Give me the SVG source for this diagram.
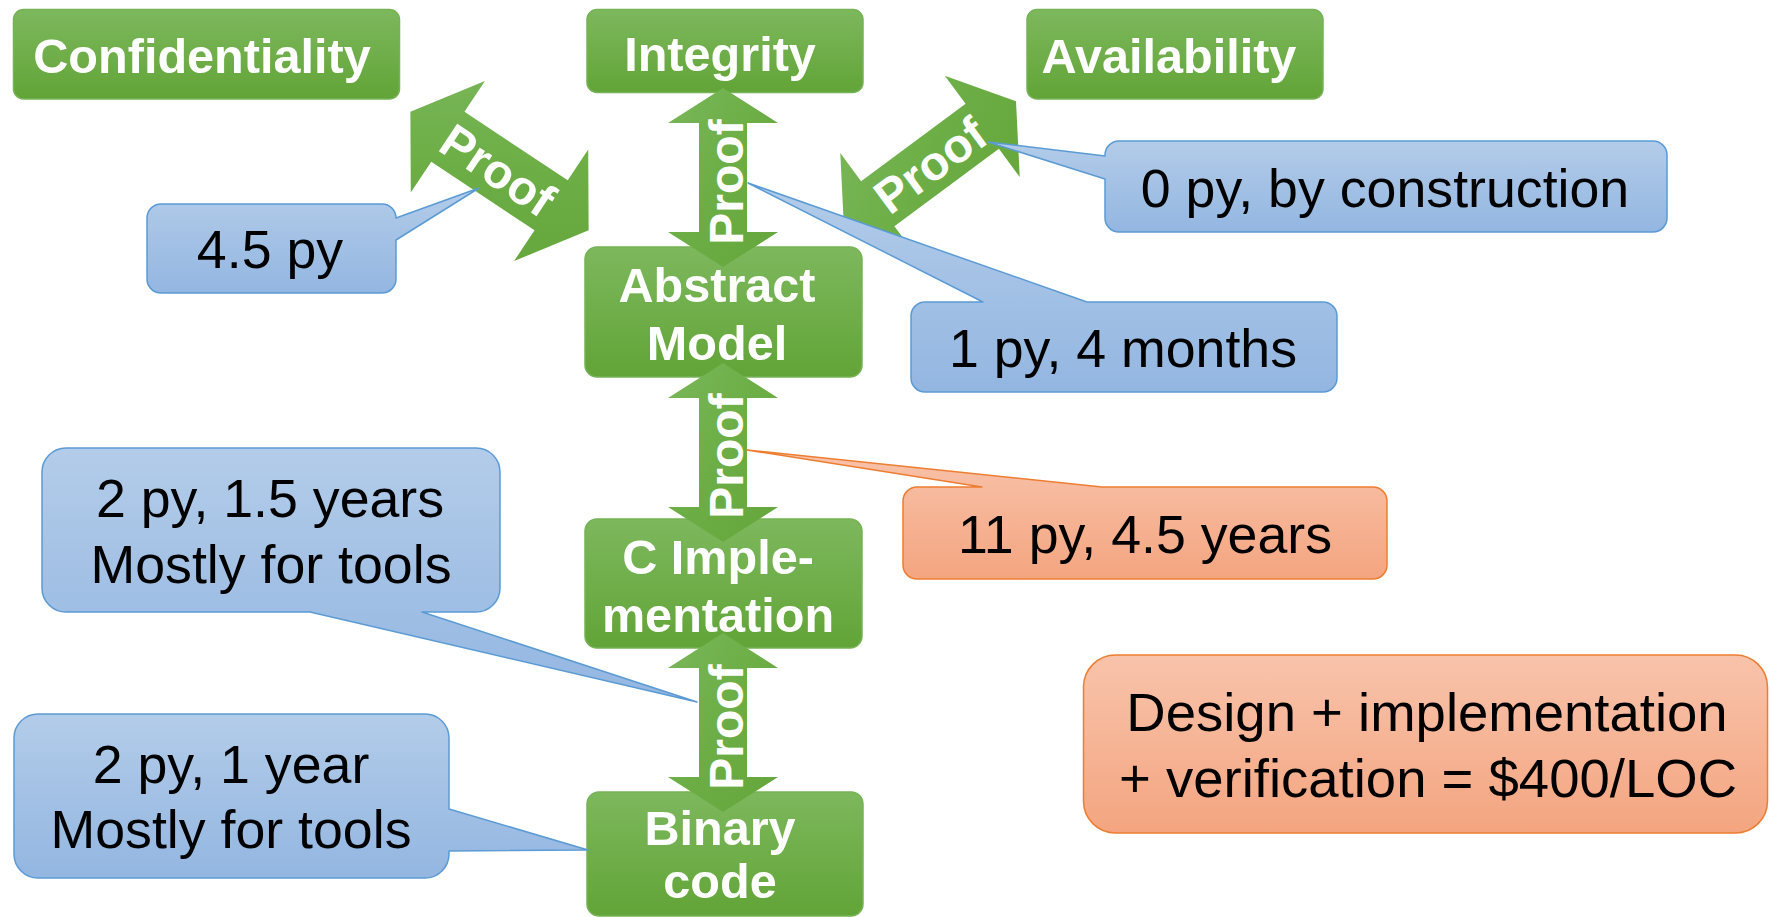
<svg xmlns="http://www.w3.org/2000/svg" width="1769" height="917" viewBox="0 0 1769 917">
<defs>
<linearGradient id="gGreen" x1="0" y1="0" x2="0" y2="1"><stop offset="0" stop-color="#7db85d"/><stop offset="1" stop-color="#62a437"/></linearGradient>
<linearGradient id="gArrow" x1="0" y1="0" x2="1" y2="1"><stop offset="0" stop-color="#7ab65a"/><stop offset="0.5" stop-color="#6cae45"/><stop offset="1" stop-color="#64a63b"/></linearGradient>
<linearGradient id="gBlue" x1="0" y1="0" x2="0" y2="1"><stop offset="0" stop-color="#b3cce9"/><stop offset="1" stop-color="#93b6e1"/></linearGradient>
<linearGradient id="gOrange" x1="0" y1="0" x2="0" y2="1"><stop offset="0" stop-color="#f8c3ab"/><stop offset="1" stop-color="#f4a580"/></linearGradient>
</defs>
<style>
.box{fill:url(#gGreen);stroke:#76b356;stroke-width:1.5}
.arrow{fill:url(#gArrow);stroke:none}
.nt{font-family:"Liberation Sans",Arial,sans-serif;font-weight:bold;font-size:48.6px;fill:#ffffff;text-anchor:middle}
.pt{font-family:"Liberation Sans",Arial,sans-serif;font-weight:bold;font-size:48px;fill:#ffffff;text-anchor:middle}
.blue{fill:url(#gBlue);stroke:#5b9bd5;stroke-width:1.5;stroke-linejoin:round}
.orange{fill:url(#gOrange);stroke:#ed7d31;stroke-width:1.5;stroke-linejoin:round}
.ct{font-family:"Liberation Sans",Arial,sans-serif;font-size:53.7px;fill:#000000;text-anchor:middle}
.big{font-size:54.5px}
</style>
<rect width="1769" height="917" fill="#ffffff"/>

<g id="confidentiality">
<rect class="box" x="13.5" y="9.5" width="386" height="89.5" rx="10"/>
<text class="nt" x="202" y="73">Confidentiality</text>
</g>
<g id="integrity">
<rect class="box" x="587" y="9.5" width="276" height="83" rx="10"/>
<text class="nt" x="720" y="71">Integrity</text>
</g>
<g id="availability">
<rect class="box" x="1027" y="9.5" width="296" height="89.5" rx="10"/>
<text class="nt" x="1169" y="73">Availability</text>
</g>
<g id="abstract-model">
<rect class="box" x="585" y="247" width="277" height="130" rx="12"/>
<text class="nt" x="717" y="302">Abstract</text>
<text class="nt" x="717" y="360">Model</text>
</g>
<g id="c-implementation">
<rect class="box" x="585" y="519" width="277" height="129" rx="12"/>
<text class="nt" x="718" y="574">C Imple-</text>
<text class="nt" x="718" y="632">mentation</text>
</g>
<g id="binary-code">
<rect class="box" x="587" y="792" width="276" height="124" rx="12"/>
<text class="nt" x="720" y="845">Binary</text>
<text class="nt" x="720" y="898">code</text>
</g>

<g id="connectors">
<g id="proof-integrity">
<polygon class="arrow" points="723,88 778,123 747,123 747,232 778,232 723,267 668,232 699,232 699,123 668,123"/>
<text class="pt" transform="translate(743,182) rotate(-90)">Proof</text>
</g>
<g id="proof-abstract-c">
<polygon class="arrow" points="723,363 778,398 747,398 747,507 778,507 723,542 668,507 699,507 699,398 668,398"/>
<text class="pt" transform="translate(743,456) rotate(-90)">Proof</text>
</g>
<g id="proof-c-binary">
<polygon class="arrow" points="723,633 778,668 747,668 747,777 778,777 723,812 668,777 699,777 699,668 668,668"/>
<text class="pt" transform="translate(743,727) rotate(-90)">Proof</text>
</g>
<g id="proof-confidentiality" transform="translate(499.5,171) rotate(33.6)">
<polygon class="arrow" points="107,0 62,-67 62,-30 -62,-30 -62,-67 -107,0 -62,67 -62,30 62,30 62,67"/>
<text class="pt" x="-2" y="17">Proof</text>
</g>
<g id="proof-availability" transform="translate(930,165) rotate(-36.5)">
<polygon class="arrow" points="107,0 65,-63 65,-28 -65,-28 -65,-63 -107,0 -65,63 -65,28 65,28 65,63"/>
<text class="pt" x="0" y="17">Proof</text>
</g>
</g>

<g id="callout-conf">
<path class="blue" d="M161,204 H382 A14,14 0 0 1 396,218 L479,188 L396,240 V279 A14,14 0 0 1 382,293 H161 A14,14 0 0 1 147,279 V218 A14,14 0 0 1 161,204 Z"/>
<text class="ct" x="270" y="268">4.5 py</text>
</g>
<g id="callout-avail">
<path class="blue" d="M1119,141 H1653 A14,14 0 0 1 1667,155 V218 A14,14 0 0 1 1653,232 H1119 A14,14 0 0 1 1105,218 V179 L988,142 L1105,156 V155 A14,14 0 0 1 1119,141 Z"/>
<text class="ct" x="1385" y="207">0 py, by construction</text>
</g>
<g id="callout-integ">
<path class="blue" d="M925,302 H983 L748,183 L1087,302 H1323 A14,14 0 0 1 1337,316 V378 A14,14 0 0 1 1323,392 H925 A14,14 0 0 1 911,378 V316 A14,14 0 0 1 925,302 Z"/>
<text class="ct" x="1123" y="367">1 py, 4 months</text>
</g>
<g id="callout-c">
<path class="orange" d="M917,487 H982 L747,450 L1102,487 H1373 A14,14 0 0 1 1387,501 V565 A14,14 0 0 1 1373,579 H917 A14,14 0 0 1 903,565 V501 A14,14 0 0 1 917,487 Z"/>
<text class="ct" x="1145" y="553">11 py, 4.5 years</text>
</g>
<g id="callout-binary">
<path class="blue" d="M66,448 H476 A24,24 0 0 1 500,472 V588 A24,24 0 0 1 476,612 H422 L697,702 L310,612 H66 A24,24 0 0 1 42,588 V472 A24,24 0 0 1 66,448 Z"/>
<text class="ct" x="270" y="517">2 py, 1.5 years</text>
<text class="ct" x="271" y="583">Mostly for tools</text>
</g>
<g id="callout-tools">
<path class="blue" d="M38,714 H425 A24,24 0 0 1 449,738 V809 L588,850 L449,851 V854 A24,24 0 0 1 425,878 H38 A24,24 0 0 1 14,854 V738 A24,24 0 0 1 38,714 Z"/>
<text class="ct" x="231" y="783">2 py, 1 year</text>
<text class="ct" x="231" y="848">Mostly for tools</text>
</g>
<g id="cost-note">
<rect class="orange" x="1083.5" y="655" width="684" height="178" rx="32"/>
<text class="ct big" x="1427" y="731">Design + implementation</text>
<text class="ct big" x="1428" y="797">+ verification = $400/LOC</text>
</g>
</svg>
